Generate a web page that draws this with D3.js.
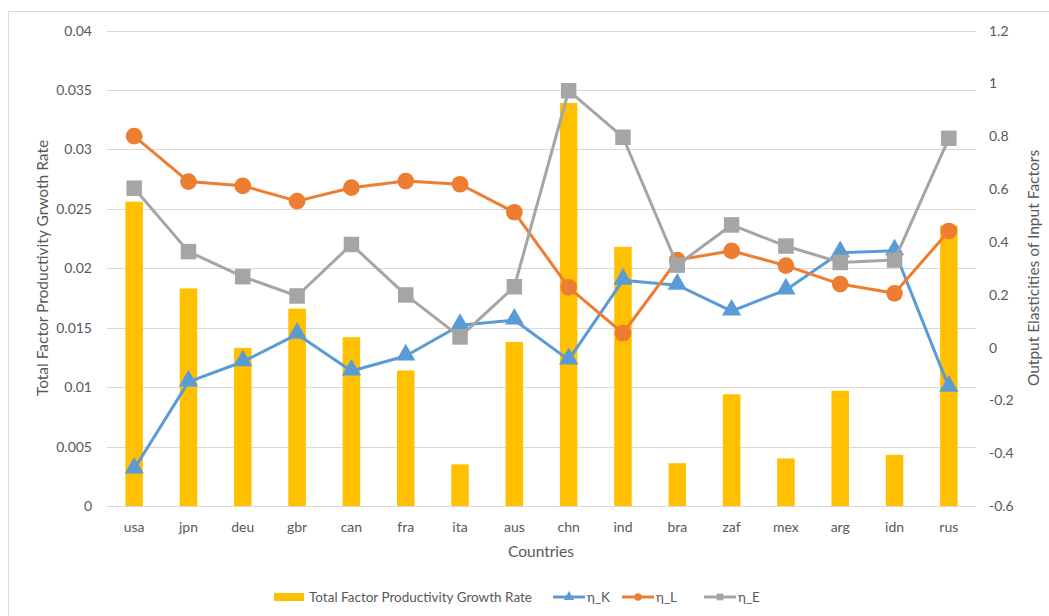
<!DOCTYPE html>
<html>
<head>
<meta charset="utf-8">
<script src="https://cdn.jsdelivr.net/npm/d3@7"></script>
<style>
  html, body { margin: 0; padding: 0; background: #fff; }
  svg text { font-family: Lato, "Open Sans", sans-serif; fill: #595959; }
</style>
</head>
<body>
<svg id="chart" width="1049" height="616"></svg>
<script>
// categories and series
const countries = ['usa','jpn','deu','gbr','can','fra','ita','aus','chn','ind','bra','zaf','mex','arg','idn','rus'];
const tfp  = [0.0256,0.0183,0.0133,0.0166,0.0142,0.0114,0.0035,0.0138,0.0339,0.0218,0.0036,0.0094,0.0040,0.0097,0.0043,0.0236];
const etaK = [-0.46,-0.13,-0.054,0.05,-0.089,-0.032,0.084,0.104,-0.047,0.255,0.236,0.138,0.218,0.359,0.366,-0.15];
const etaL = [0.80,0.628,0.612,0.554,0.605,0.630,0.618,0.512,0.228,0.054,0.331,0.366,0.310,0.240,0.205,0.441];
const etaE = [0.603,0.363,0.268,0.195,0.390,0.199,0.040,0.230,0.972,0.796,0.312,0.464,0.384,0.322,0.331,0.792];
const leftTicks  = [0,0.005,0.01,0.015,0.02,0.025,0.03,0.035,0.04];
const rightTicks = [-0.6,-0.4,-0.2,0,0.2,0.4,0.6,0.8,1,1.2];

const svg = d3.select('#chart');
const m = { left: 107, right: 976, top: 30.5, bottom: 506 };

// chart border
svg.append('rect').attr('x', 8.5).attr('y', 11.5).attr('width', 1060).attr('height', 620)
  .attr('fill', 'none').attr('stroke', '#d9d9d9');

const x = d3.scaleBand().domain(countries).range([m.left, m.right]);
const yL = d3.scaleLinear().domain([0, 0.04]).range([m.bottom, m.top]);
const yR = d3.scaleLinear().domain([-0.6, 1.2]).range([m.bottom, m.top]);

// gridlines
svg.append('g').selectAll('line').data(leftTicks).join('line')
  .attr('x1', m.left).attr('x2', m.right)
  .attr('y1', d => Math.round(yL(d)) + 0.5).attr('y2', d => Math.round(yL(d)) + 0.5)
  .attr('stroke', '#d9d9d9').attr('stroke-width', 1);

// tick labels
svg.append('g').selectAll('text').data(leftTicks).join('text')
  .attr('x', 92).attr('y', d => yL(d) + 5)
  .attr('text-anchor', 'end').attr('font-size', 14)
  .text(d => d);
svg.append('g').selectAll('text').data(rightTicks).join('text')
  .attr('x', 989).attr('y', d => yR(d) + 5)
  .attr('font-size', 14)
  .text(d => d);
svg.append('g').selectAll('text').data(countries).join('text')
  .attr('x', d => x(d) + x.bandwidth() / 2).attr('y', 532)
  .attr('text-anchor', 'middle').attr('font-size', 14)
  .text(d => d);

// axis titles
svg.append('text').attr('x', 541).attr('y', 557).attr('text-anchor', 'middle')
  .attr('font-size', 15.5).text('Countries');
svg.append('text').attr('transform', 'translate(48,268) rotate(-90)').attr('text-anchor', 'middle')
  .attr('font-size', 15.5).text('Total Factor Productivity Grwoth Rate');
svg.append('text').attr('transform', 'translate(1039,268) rotate(-90)').attr('text-anchor', 'middle')
  .attr('font-size', 15.5).text('Output Elasticities of Input Factors');

// bars
const bw = 17.5;
svg.append('g').selectAll('rect').data(tfp).join('rect')
  .attr('x', (d, i) => x(countries[i]) + x.bandwidth() / 2 - bw / 2)
  .attr('y', d => yL(d)).attr('width', bw)
  .attr('height', d => m.bottom - yL(d))
  .attr('fill', '#FFC000');

// line series
const series = [
  { name: 'η_K', vals: etaK, color: '#5B9BD5', sym: d3.symbolTriangle, size: 160 },
  { name: 'η_L', vals: etaL, color: '#ED7D31', sym: d3.symbolCircle, size: 220 },
  { name: 'η_E', vals: etaE, color: '#A5A5A5', sym: d3.symbolSquare, size: 240 },
];
const cx = i => x(countries[i]) + x.bandwidth() / 2;

series.forEach(s => {
  const line = d3.line().x((d, i) => cx(i)).y(d => yR(d));
  const g = svg.append('g');
  g.append('path').datum(s.vals).attr('d', line)
    .attr('fill', 'none').attr('stroke', s.color).attr('stroke-width', 3)
    .attr('stroke-linejoin', 'round');
  g.selectAll('path.mk').data(s.vals).join('path')
    .attr('class', 'mk')
    .attr('transform', (d, i) => `translate(${cx(i)},${yR(d) + (s.sym === d3.symbolTriangle ? -1 : 0)})`)
    .attr('d', d3.symbol(s.sym, s.size))
    .attr('fill', s.color);
});

// legend
const lg = svg.append('g');
lg.append('rect').attr('x', 274).attr('y', 593).attr('width', 30).attr('height', 8).attr('fill', '#FFC000');
lg.append('text').attr('x', 309).attr('y', 602).attr('font-size', 13.5).text('Total Factor Productivity Growth Rate');
const legX = [553, 622, 704];
series.forEach((s, i) => {
  lg.append('line').attr('x1', legX[i]).attr('x2', legX[i] + 32).attr('y1', 597).attr('y2', 597)
    .attr('stroke', s.color).attr('stroke-width', 3);
  lg.append('path').attr('transform', `translate(${legX[i] + 16},597)`)
    .attr('d', d3.symbol(s.sym, 45)).attr('fill', s.color);
  lg.append('text').attr('x', legX[i] + 34).attr('y', 602).attr('font-size', 13.5).text(s.name);
});
</script>
</body>
</html>
